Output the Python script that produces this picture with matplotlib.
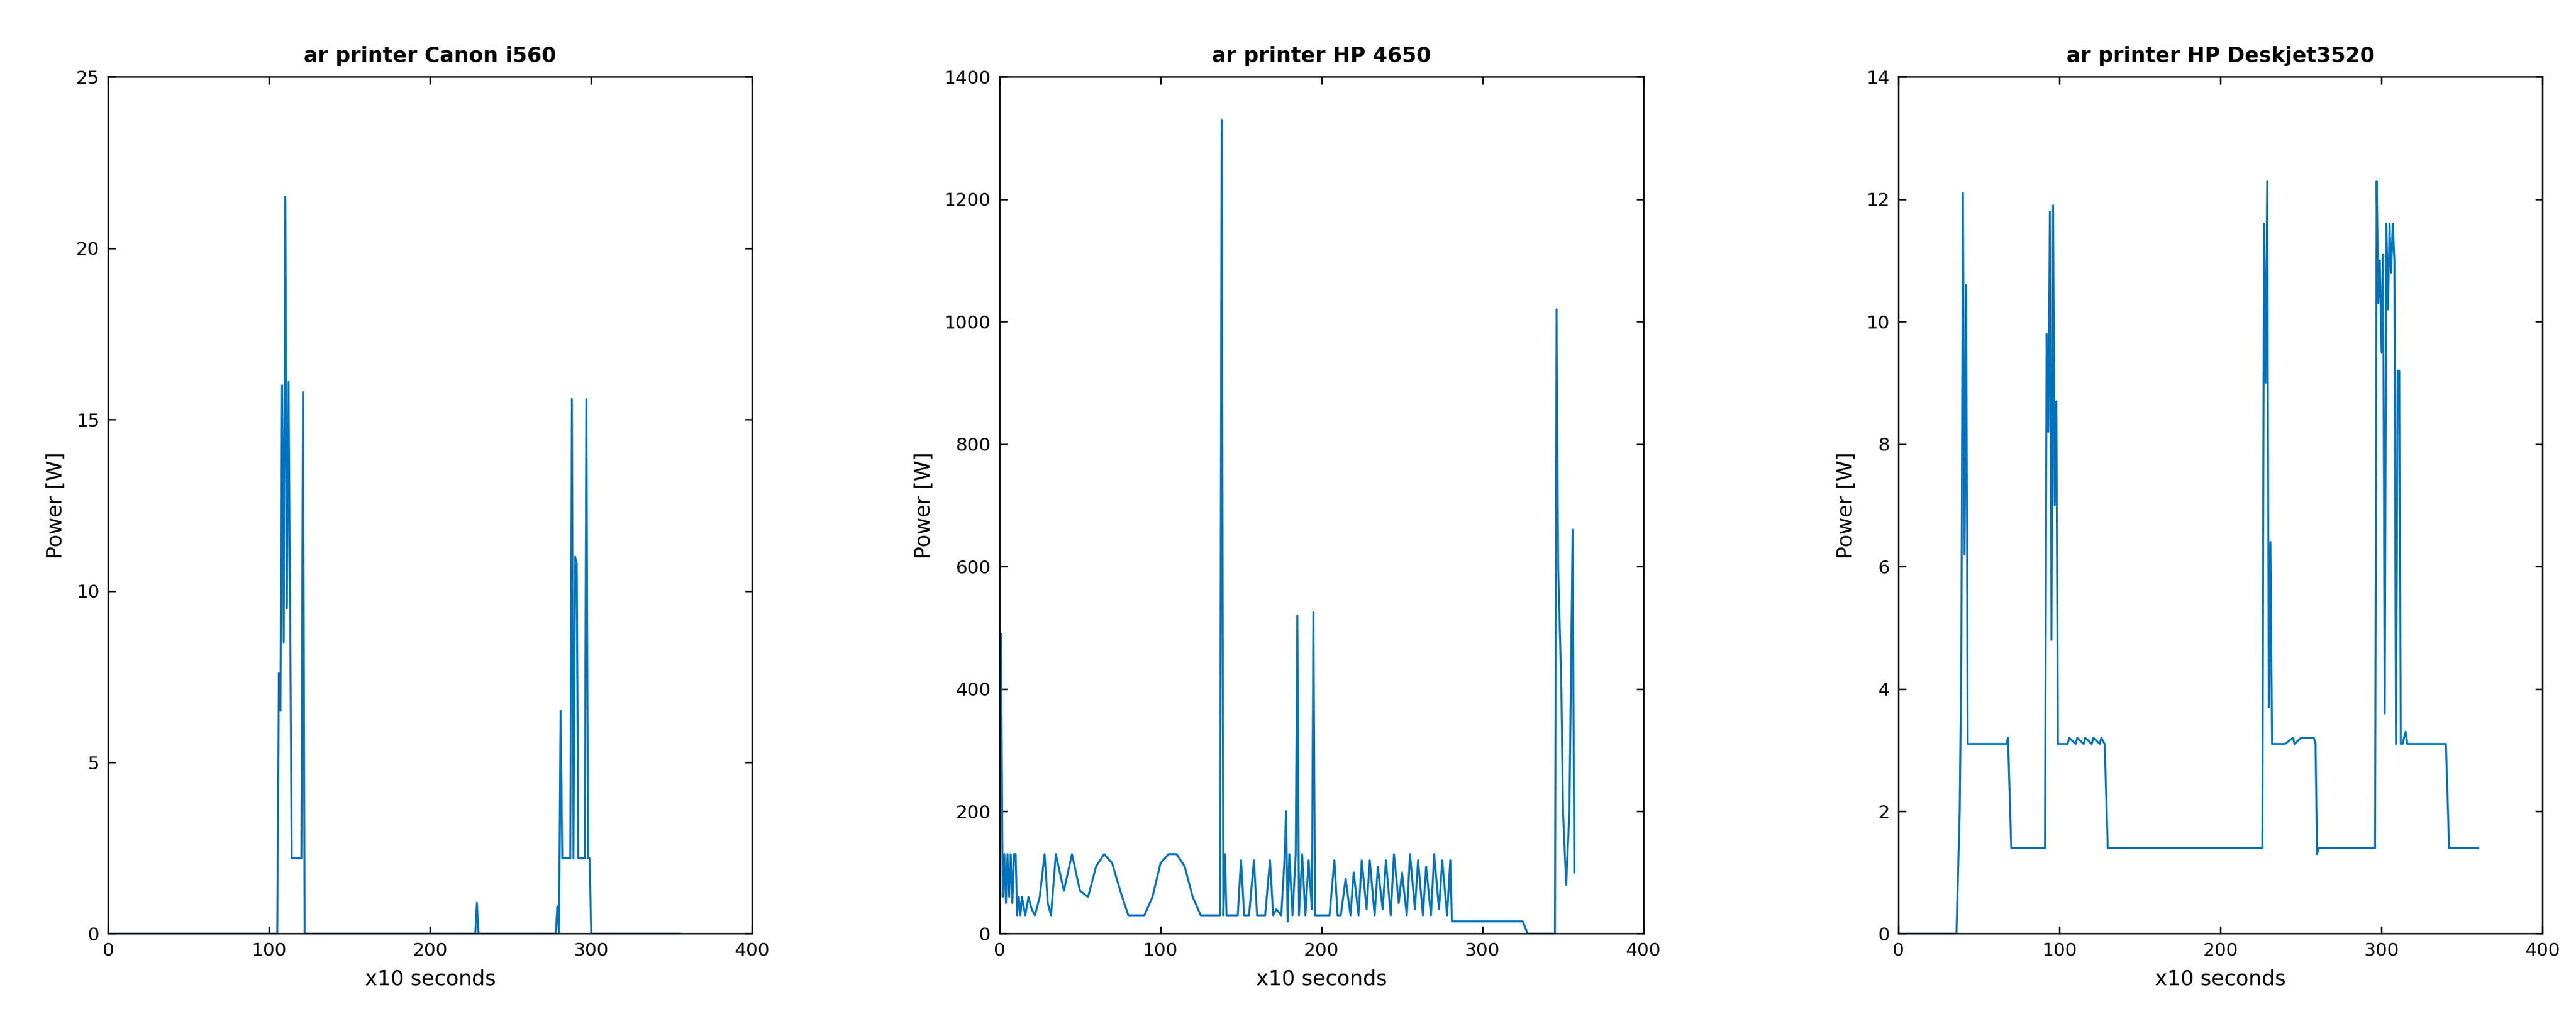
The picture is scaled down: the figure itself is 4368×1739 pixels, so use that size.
import matplotlib
matplotlib.use("Agg")
import matplotlib.pyplot as plt

LINE = "#0072BD"
plt.rcParams.update({"font.family": "DejaVu Sans", "font.size": 8})

# Canon i560: breakpoints (x10 s, W)
canon_x = [0, 105, 106, 107, 108, 109, 110, 111, 112, 113, 114, 120, 121, 122, 228, 229, 230,
           278, 279, 280, 281, 282, 283, 287, 288, 289, 290, 291, 292, 293, 296, 297, 298, 299, 300, 355]
canon_y = [0, 0, 7.6, 6.5, 16.0, 8.5, 21.5, 9.5, 16.1, 9.5, 2.2, 2.2, 15.8, 0, 0, 0.9, 0,
           0, 0.8, 0, 6.5, 2.2, 2.2, 2.2, 15.6, 2.2, 11.0, 10.8, 2.2, 2.2, 2.2, 15.6, 2.2, 2.2, 0, 0]

# HP 4650
hp_x = [0, 1, 2, 3, 4, 5, 6, 7, 8, 9, 10, 11, 12, 13, 14, 16, 18, 20, 22, 25, 28, 30, 32,
        35, 40, 45, 50, 55, 60, 65, 70, 75, 80, 85, 90, 95, 100, 105, 110, 115, 120, 125, 130,
        134, 136, 137, 138, 139, 140, 141, 143, 145, 148, 150, 152, 155, 158, 160, 162, 165,
        168, 170, 172, 175, 177, 178, 179, 180, 182, 184, 185, 186, 188, 190, 192, 194, 195,
        196, 198, 200, 205, 208, 210, 212, 215, 218, 220, 223, 225, 228, 230, 233, 235, 238,
        240, 243, 245, 248, 250, 253, 255, 258, 260, 263, 265, 268, 270, 273, 275, 278, 280,
        281, 300, 325, 328, 345, 346, 347, 348, 349, 350, 352, 354, 356, 357]
hp_y = [0, 490, 60, 130, 50, 130, 60, 130, 50, 130, 130, 30, 60, 30, 60, 30, 60, 40, 30, 60, 130, 50,
        30, 130, 70, 130, 70, 60, 110, 130, 115, 70, 30, 30, 30, 60, 115, 130, 130, 110, 60, 30, 30,
        30, 30, 30, 1330, 30, 130, 30, 30, 30, 30, 120, 30, 30, 120, 30, 30, 30,
        120, 30, 40, 30, 120, 200, 20, 130, 30, 130, 520, 30, 130, 30, 120, 40, 525,
        30, 30, 30, 30, 120, 30, 30, 90, 30, 100, 30, 120, 40, 120, 30, 110, 40,
        120, 30, 130, 50, 100, 30, 130, 40, 120, 30, 110, 30, 130, 40, 120, 30, 120,
        20, 20, 20, 0, 0, 1020, 600, 500, 400, 200, 80, 200, 660, 100]

# HP Deskjet3520
dj_x = [0, 36, 38, 39, 40, 41, 42, 43, 67, 68, 70, 91, 92, 93, 94, 95, 96, 97, 98, 99, 100, 101,
        105, 106, 110, 111, 115, 116, 120, 121, 125, 126, 128, 130, 226, 227, 228, 229, 230, 231,
        232, 233, 234, 240, 245, 246, 250, 258, 259, 260, 261, 296, 297, 298, 299, 300, 301,
        302, 303, 304, 305, 306, 307, 308, 309, 310, 311, 312, 313, 315, 316, 320, 340, 342, 360]
dj_y = [0, 0, 2.0, 4.5, 12.1, 6.2, 10.6, 3.1, 3.1, 3.2, 1.4, 1.4, 9.8, 8.2, 11.8, 4.8, 11.9, 7.0,
        8.7, 3.1, 3.1, 3.1, 3.1, 3.2, 3.1, 3.2, 3.1, 3.2, 3.1, 3.2, 3.1, 3.2, 3.1, 1.4, 1.4, 11.6,
        9.0, 12.3, 3.7, 6.4, 3.1, 3.1, 3.1, 3.1, 3.2, 3.1, 3.2, 3.2, 3.1, 1.3, 1.4, 1.4, 12.3,
        10.3, 11.0, 9.5, 11.1, 3.6, 11.6, 10.2, 11.6, 10.8, 11.6, 11.0, 3.1, 9.2, 9.2, 3.1, 3.1,
        3.3, 3.1, 3.1, 3.1, 1.4, 1.4]

panels = [
    ("ar printer Canon i560", canon_x, canon_y, (0, 25), 5, 0.042),
    ("ar printer HP 4650", hp_x, hp_y, (0, 1400), 200, 0.388),
    ("ar printer HP Deskjet3520", dj_x, dj_y, (0, 14), 2, 0.737),
]

fig = plt.figure(figsize=(14.56, 5.797), dpi=300)
for title, xs, ys, ylim, ystep, left in panels:
    ax = fig.add_axes([left, 0.09, 0.25, 0.835])
    ax.plot(xs, ys, color=LINE, lw=0.8)
    ax.set_xlim(0, 400)
    ax.set_ylim(*ylim)
    ax.set_yticks(range(ylim[0], ylim[1] + 1, ystep))
    ax.set_xticks(range(0, 401, 100))
    ax.set_title(title, fontsize=8.5, fontweight="bold")
    ax.set_xlabel("x10 seconds", fontsize=8.5)
    ax.set_ylabel("Power [W]", fontsize=8.5)
    ax.tick_params(direction="in", top=True, right=True, labelsize=7.5, length=3, width=0.6)
    for s in ax.spines.values():
        s.set_linewidth(0.6)

fig.savefig("out.png", dpi=300)
